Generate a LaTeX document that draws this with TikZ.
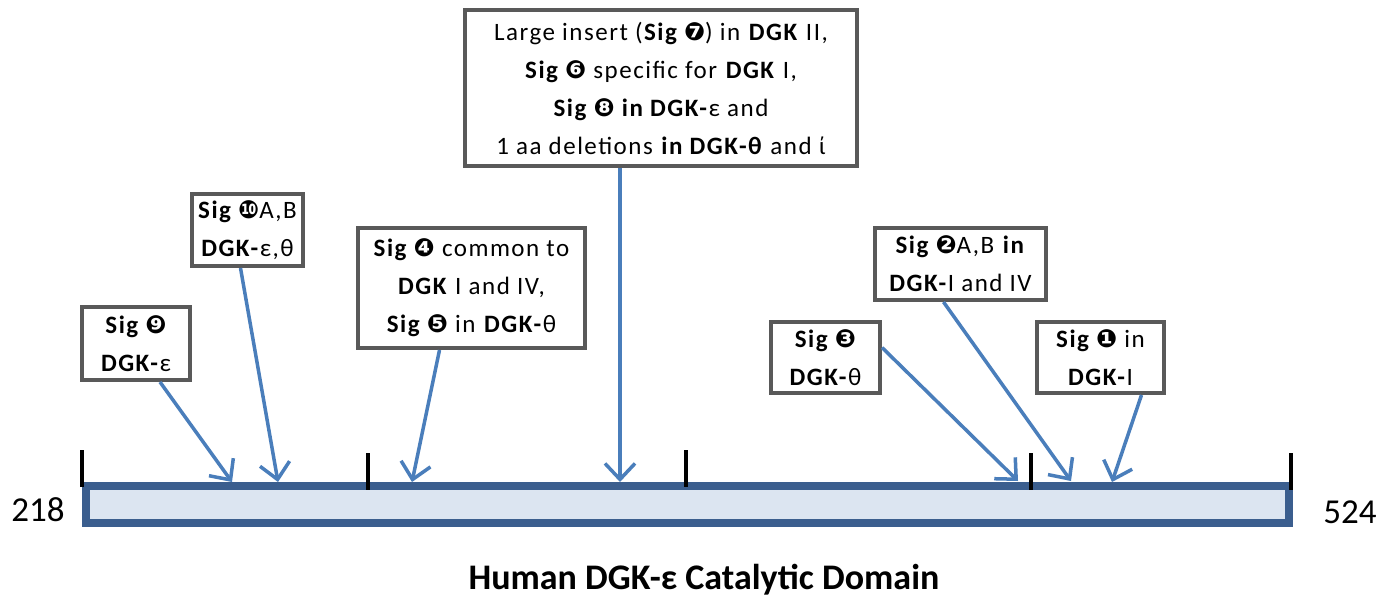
\documentclass[tikz,border=0pt]{standalone}
\usepackage{fontspec}
\setmainfont{Carlito}
\newfontfamily\dv{DejaVu Sans}
\newfontfamily\spaced{Carlito}[LetterSpace=6]
\usetikzlibrary{arrows.meta}
\definecolor{boxgray}{HTML}{595959}
\definecolor{arrblue}{HTML}{4A7EBB}
\definecolor{bardark}{HTML}{3B5E8E}
\definecolor{barfill}{HTML}{DCE5F1}
\newcommand{\cn}[1]{{\dv #1}}
\tikzset{
  sigbox/.style={draw=boxgray, line width=4pt, fill=white, align=center, inner sep=0pt,
    font=\spaced\fontsize{25}{38}\selectfont},
  pointer/.style={draw=arrblue, line width=3.5pt, -{Straight Barb[length=16pt,width=30pt,line width=3.5pt]}},
  tickmark/.style={draw=black, line width=4pt},
  endlabel/.style={font=\fontsize{35}{38}\selectfont, inner sep=0pt},
}
\begin{document}
\begin{tikzpicture}[x=1pt,y=-1pt]
\useasboundingbox (0,0) rectangle (1395,603);
% bar
\draw[draw=bardark, fill=barfill, line width=8pt] (86,486) rectangle (1289,523);
% ticks
\coordinate (t1a) at (82,450); \coordinate (t1b) at (82,487);
\coordinate (t2a) at (368,453); \coordinate (t2b) at (368,490);
\coordinate (t3a) at (686,450); \coordinate (t3b) at (686,487);
\coordinate (t4a) at (1031,453); \coordinate (t4b) at (1031,490);
\coordinate (t5a) at (1291,453); \coordinate (t5b) at (1291,490);
\foreach \i in {1,...,5} {\draw[tickmark] (t\i a) -- (t\i b);}
% end labels
\node[endlabel] (n218) at (38,510) {218};
\node[endlabel] (n524) at (1350,512) {524};
\node[font=\fontsize{36}{40}\bfseries\selectfont, inner sep=0pt] (title) at (704,580) {Human DGK-ε Catalytic Domain};
% boxes
\node[sigbox, minimum width=392pt, minimum height=156pt] (big) at (661,88)
 {Large insert (\textbf{Sig \cn{❼}}) in \textbf{DGK} II,\\
  \textbf{Sig \cn{❻}} specific for \textbf{DGK} I,\\
  \textbf{Sig \cn{❽} in DGK-}ε and\\
  1 aa deletions \textbf{in DGK-θ} and ί};
\node[sigbox, minimum width=111pt, minimum height=72pt] (b10) at (247.5,230)
 {\textbf{Sig \cn{❿}}A,B\\ \textbf{DGK-}ε,θ};
\node[sigbox, minimum width=108pt, minimum height=73pt] (b9) at (136,343.5)
 {\textbf{Sig \cn{❾}}\\ \textbf{DGK-}ε};
\node[sigbox, minimum width=227pt, minimum height=120pt] (b4) at (471.5,288)
 {\textbf{Sig \cn{❹}} common to\\ \textbf{DGK} I and IV,\\ \textbf{Sig \cn{❺}} in \textbf{DGK-}θ};
\node[sigbox, minimum width=171pt, minimum height=72pt] (b2) at (960.5,264)
 {\textbf{Sig \cn{❷}}A,B \textbf{in}\\ \textbf{DGK-}I and IV};
\node[sigbox, minimum width=109pt, minimum height=71pt] (b3) at (825.5,357.5)
 {\textbf{Sig \cn{❸}}\\ \textbf{DGK-}θ};
\node[sigbox, minimum width=127pt, minimum height=71pt] (b1) at (1100.5,357.5)
 {\textbf{Sig \cn{❶}} in\\ \textbf{DGK-}I};
% arrow targets
\coordinate (p9) at (232,482);
\coordinate (p10) at (278,482);
\coordinate (p4) at (412,482);
\coordinate (pbig) at (620,482);
\coordinate (p3) at (1018,481);
\coordinate (p2) at (1071,481);
\coordinate (p1) at (1112,482);
% arrows
\draw[pointer] ([xshift=24pt]b9.south) -- (p9);
\draw[pointer] ([xshift=-7pt]b10.south) -- (p10);
\draw[pointer] ([xshift=-32pt]b4.south) -- (p4);
\draw[pointer] ([xshift=-41pt]big.south) -- (pbig);
\draw[pointer] ([yshift=10pt]b3.east) -- (p3);
\draw[pointer] ([xshift=-17pt]b2.south) -- (p2);
\draw[pointer] ([xshift=41pt]b1.south) -- (p1);
\end{tikzpicture}
\end{document}
